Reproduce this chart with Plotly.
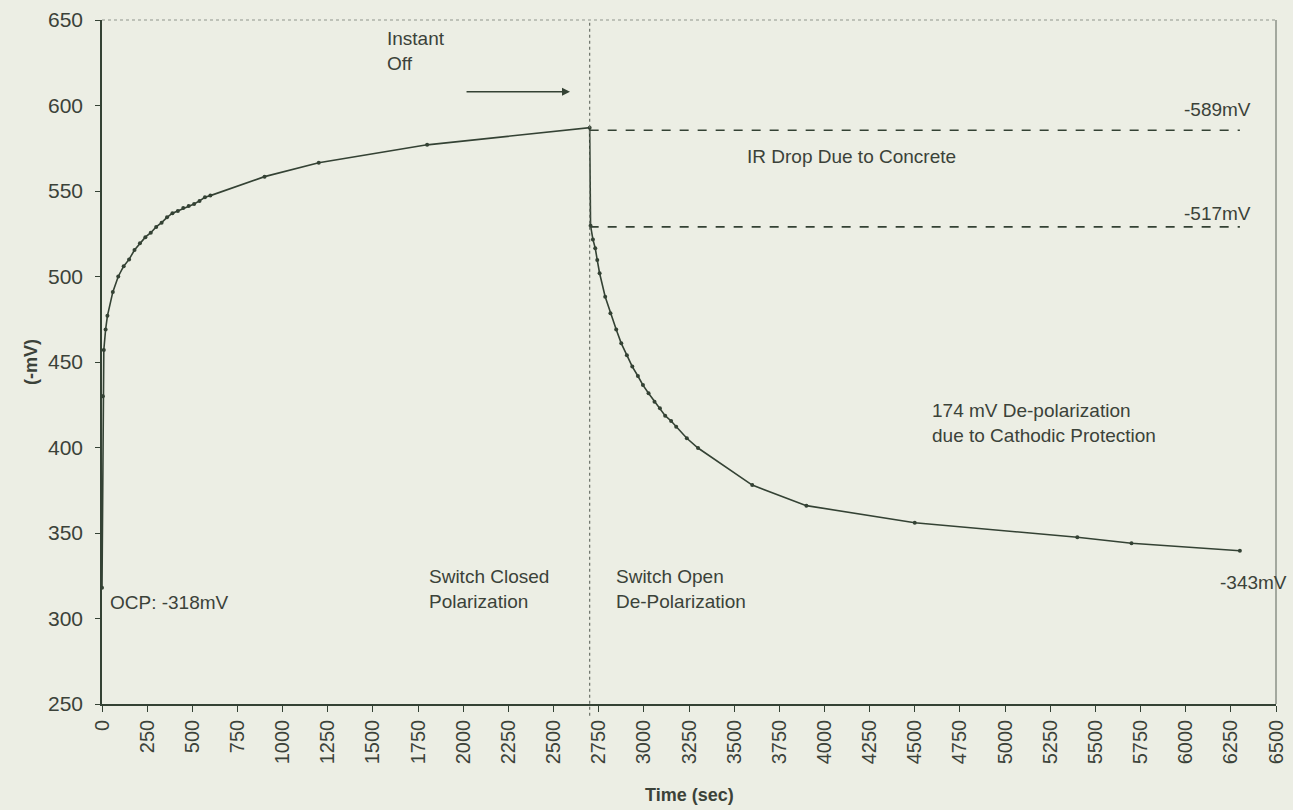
import plotly.graph_objects as go

# ---- data ----
time_s = [0, 5, 10, 20, 30, 60, 90, 120, 150, 180, 210, 240, 270, 300, 330, 360,
          390, 420, 450, 480, 510, 540, 570, 600, 900, 1200, 1800, 2700,
          2705, 2718, 2731, 2742, 2755, 2786, 2815, 2847, 2875, 2906, 2936, 2967,
          2995, 3026, 3059, 3089, 3118, 3151, 3179, 3238, 3300,
          3600, 3900, 4500, 5400, 5700, 6300]
potential_mv = [318, 430, 457, 469, 477, 491, 500, 506, 510, 515.5, 519.4, 523, 525.6, 529,
                531.5, 534.6, 537, 538.3, 540, 541.2, 542.4, 544.2, 546.3, 547.3, 558.4,
                566.5, 577, 587,
                529.7, 521.7, 516.5, 509.6, 501.9, 488.2, 478.5, 469, 460.9, 453.9, 447.3,
                441.8, 436.5, 431.7, 426.8, 422.9, 418.6, 415.5, 412.2, 405.4, 399.7,
                378, 366, 356, 347.5, 344, 339.6]

instant_off_time = 2700
dash_levels = [585.5, 529]
dash_span = [2700, 6300]

x_ticks = list(range(0, 6501, 250))
y_ticks = list(range(250, 651, 50))

# ---- style ----
BG = "#eceee4"
INK = "#3b4239"
LINE = "#344234"
FONT = "Liberation Sans, Arial, sans-serif"

fig = go.Figure()
fig.add_trace(go.Scatter(
    x=time_s, y=potential_mv, mode="lines+markers",
    line=dict(color=LINE, width=1.6),
    marker=dict(color=LINE, size=4),
    showlegend=False, hoverinfo="x+y"))

# dashed reference lines
for lvl in dash_levels:
    fig.add_trace(go.Scatter(
        x=dash_span, y=[lvl, lvl], mode="lines",
        line=dict(color=LINE, width=1.6, dash="dash"),
        showlegend=False, hoverinfo="skip"))

shapes = [
    dict(type="line", xref="x", yref="paper", x0=instant_off_time, x1=instant_off_time,
         y0=-0.017, y1=1, line=dict(color="#6b7268", width=1.2, dash="dot")),
    dict(type="line", xref="paper", yref="paper", x0=0, x1=1, y0=1, y1=1,
         line=dict(color="#8f958c", width=1, dash="dot")),
    dict(type="line", xref="paper", yref="paper", x0=1, x1=1, y0=0, y1=1,
         line=dict(color="#5a6358", width=1)),
]

ann_font = dict(family=FONT, size=19, color=INK)
annotations = [
    dict(x=1567, y=632, xref="x", yref="y", text="Instant<br>Off", showarrow=False,
         xanchor="left", yanchor="middle", align="left", font=ann_font),
    dict(x=2591, y=608, ax=2010, ay=608, xref="x", yref="y", axref="x", ayref="y",
         text="", showarrow=True, arrowhead=2, arrowsize=1, arrowwidth=1.6,
         arrowcolor=LINE),
    dict(x=3560, y=570, xref="x", yref="y", text="IR Drop Due to Concrete",
         showarrow=False, xanchor="left", yanchor="middle", font=ann_font),
    dict(x=5979, y=597.4, xref="x", yref="y", text="-589mV", showarrow=False,
         xanchor="left", yanchor="middle", font=ann_font),
    dict(x=5979, y=537.1, xref="x", yref="y", text="-517mV", showarrow=False,
         xanchor="left", yanchor="middle", font=ann_font),
    dict(x=4584, y=414.3, xref="x", yref="y",
         text="174 mV De-polarization<br>due to Cathodic Protection",
         showarrow=False, xanchor="left", yanchor="middle", align="left", font=ann_font),
    dict(x=6179, y=320.8, xref="x", yref="y", text="-343mV", showarrow=False,
         xanchor="left", yanchor="middle", font=ann_font),
    dict(x=33, y=309.6, xref="x", yref="y", text="OCP: -318mV", showarrow=False,
         xanchor="left", yanchor="middle", font=ann_font),
    dict(x=1800, y=317.3, xref="x", yref="y", text="Switch Closed<br>Polarization",
         showarrow=False, xanchor="left", yanchor="middle", align="left", font=ann_font),
    dict(x=2835, y=317.3, xref="x", yref="y", text="Switch Open<br>De-Polarization",
         showarrow=False, xanchor="left", yanchor="middle", align="left", font=ann_font),
    dict(x=-0.0605, y=0.5, xref="paper", yref="paper", text="<b>(-mV)</b>",
         showarrow=False, textangle=-90, xanchor="center", yanchor="middle",
         font=dict(family=FONT, size=18, color=INK)),
    dict(x=0.5, y=-0.133, xref="paper", yref="paper", text="<b>Time (sec)</b>",
         showarrow=False, xanchor="center", yanchor="middle",
         font=dict(family=FONT, size=18, color=INK)),
]

fig.update_layout(
    width=1293, height=810,
    margin=dict(l=102, r=17, t=20, b=106),
    paper_bgcolor=BG, plot_bgcolor=BG,
    font=dict(family=FONT, color=INK),
    shapes=shapes, annotations=annotations,
)
fig.update_xaxes(
    range=[0, 6500], tickmode="array", tickvals=x_ticks,
    ticktext=[str(v) for v in x_ticks], tickangle=-90,
    tickfont=dict(family=FONT, size=20, color=INK),
    showgrid=False, zeroline=False, showline=True, linecolor=LINE, linewidth=1.5,
    ticks="outside", ticklen=6, tickcolor=LINE, tickwidth=1,
    automargin=False, ticklabeloverflow="allow",
)
fig.update_yaxes(
    range=[250, 650], tickmode="array", tickvals=y_ticks,
    ticktext=[str(v) for v in y_ticks],
    tickfont=dict(family=FONT, size=21, color=INK),
    showgrid=False, zeroline=False, showline=True, linecolor=LINE, linewidth=1.5,
    ticks="outside", ticklen=5, tickcolor=LINE, tickwidth=1, ticklabelstandoff=8,
    automargin=False, ticklabeloverflow="allow",
)

# remove the browser's default 8px body margin so the figure fills the window
fig.write_html(
    "out.html",
    config={"displayModeBar": False},
    post_script="document.body.style.margin='0';document.body.style.overflow='hidden';",
)
